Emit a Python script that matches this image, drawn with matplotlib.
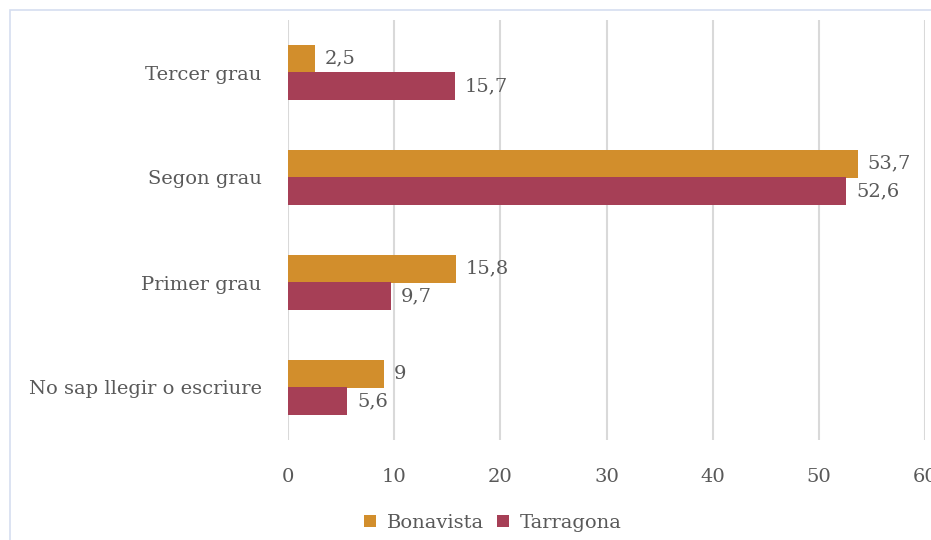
import matplotlib.pyplot as plt
import numpy as np
from matplotlib.patches import Rectangle

# dades
categories = ["No sap llegir o escriure", "Primer grau", "Segon grau", "Tercer grau"]
bonavista = [9, 15.8, 53.7, 2.5]
tarragona = [5.6, 9.7, 52.6, 15.7]
x_ticks = [0, 10, 20, 30, 40, 50, 60]

orange = "#D28E2C"
red = "#A63F56"
txt = "#595959"

plt.rcParams['font.family'] = ['DejaVu Serif']

fig = plt.figure(figsize=(9.31, 5.4), dpi=100)
ax = fig.add_axes([288/931, 1-440/540, (925-288)/931, 420/540])

# marc del gràfic
fig.patches.append(Rectangle((10/931, -0.1), 1.2, 1-10/540+0.1, transform=fig.transFigure,
                             fill=False, edgecolor="#D6DEF0", linewidth=1.2))

y = np.arange(len(categories))
h = 0.26
b1 = ax.barh(y + h/2, bonavista, height=h, color=orange, zorder=3)
b2 = ax.barh(y - h/2, tarragona, height=h, color=red, zorder=3)

for bars, vals in ((b1, bonavista), (b2, tarragona)):
    for bar, v in zip(bars, vals):
        lab = ("%g" % v).replace(".", ",")
        ax.annotate(lab, (bar.get_width(), bar.get_y() + bar.get_height()/2),
                    xytext=(7, 0), textcoords="offset points", va="center", ha="left",
                    fontsize=14, color=txt)

ax.set_xlim(0, 60)
ax.set_ylim(-0.5, 3.5)
ax.set_xticks(x_ticks)
ax.set_yticks(y)
ax.set_yticklabels(categories)
ax.tick_params(axis="both", length=0, labelsize=14, labelcolor=txt)
ax.tick_params(axis="x", pad=20)
ax.tick_params(axis="y", pad=19)
ax.grid(axis="x", color="#D9D9D9", linewidth=1.5, zorder=0)
for s in ax.spines.values():
    s.set_visible(False)

leg = fig.legend([b1, b2], ["Bonavista", "Tarragona"], loc="center", ncol=2,
                 bbox_to_anchor=(493/931, 1-523/540), frameon=False, fontsize=14,
                 handlelength=0.6, handleheight=0.6, handletextpad=0.55, columnspacing=0.7)
for t in leg.get_texts():
    t.set_color(txt)

fig.savefig("out.png", dpi=100)
